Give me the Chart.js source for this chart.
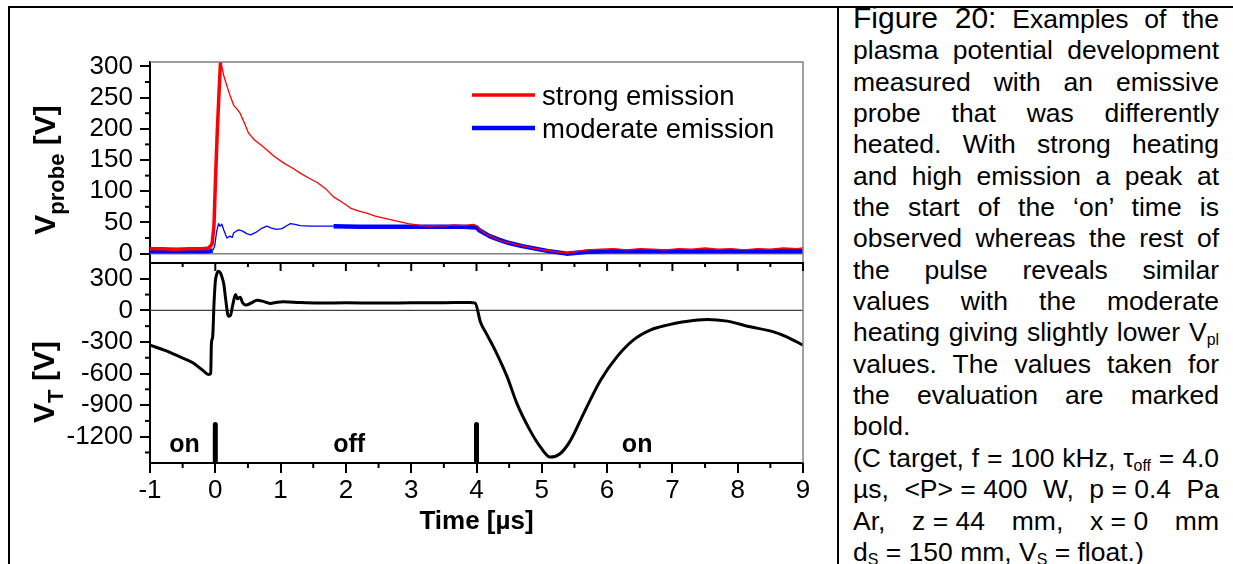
<!DOCTYPE html>
<html>
<head>
<meta charset="utf-8">
<script src="https://cdn.jsdelivr.net/npm/chart.js@4/dist/chart.umd.min.js"></script>
<style>
    html, body { margin: 0; padding: 0; background: #fff; }
    body { width: 1233px; height: 564px; position: relative; overflow: hidden; font-family: "Liberation Sans", Arial, sans-serif; }
    #frameTop { position: absolute; left: 8px; top: 6px; width: 1225px; height: 2px; background: #000; }
    #frameLeft { position: absolute; left: 8px; top: 6px; width: 2px; height: 558px; background: #000; }
    #frameMid { position: absolute; left: 837px; top: 6px; width: 2px; height: 558px; background: #000; }
    canvas { position: absolute; left: 0; top: 0; }
    #caption { position: absolute; left: 853px; top: 2px; width: 366px; font-size: 26.5px; line-height: 31.35px; color: #000; }
    #caption .j { text-align: justify; text-align-last: justify; }
    #caption .fig { font-size: 30px; }
    #caption .nb { display: inline-block; }
    sub { font-size: 0.6em; vertical-align: -0.25em; line-height: 0; }
</style>
</head>
<body>
<div id="frameTop"></div>
<div id="frameLeft"></div>
<div id="frameMid"></div>
<canvas id="probeChart" width="830" height="564"></canvas>
<canvas id="targetChart" width="830" height="564"></canvas>
<div id="caption">
    <div class="j"><span class="fig">Figure 20:</span> Examples of the</div>
    <div class="j">plasma potential development</div>
    <div class="j">measured with an emissive</div>
    <div class="j">probe that was differently</div>
    <div class="j">heated. With strong heating</div>
    <div class="j">and high emission a peak at</div>
    <div class="j">the start of the ‘on’ time is</div>
    <div class="j">observed whereas the rest of</div>
    <div class="j">the pulse reveals similar</div>
    <div class="j">values with the moderate</div>
    <div class="j">heating giving slightly lower V<sub>pl</sub></div>
    <div class="j">values. The values taken for</div>
    <div class="j">the evaluation are marked</div>
    <div>bold.</div>
    <div class="j">(C target, f = 100 kHz, τ<sub>off</sub> = 4.0</div>
    <div class="j">µs, <span class="nb">&lt;P&gt; = 400</span> W, <span class="nb">p = 0.4</span> Pa</div>
    <div class="j">Ar, <span class="nb">z = 44</span> mm, <span class="nb">x = 0</span> mm</div>
    <div>d<sub>S</sub> = 150 mm, V<sub>S</sub> = float.)</div>
</div>
<script>
// ------------------------------------------------------------
// dados
// ------------------------------------------------------------
const timeTicks = [-1, 0, 1, 2, 3, 4, 5, 6, 7, 8, 9];
const probeTicks = [0, 50, 100, 150, 200, 250, 300];
const targetTicks = [-1200, -900, -600, -300, 0, 300];
const seriesNames = ['strong emission', 'moderate emission'];

// strong emission - trecho em negrito (antes do pulso + subida)
const tStrongBold = [-1, -0.8, -0.6, -0.4, -0.2, -0.1, -0.05, -0.02, 0, 0.03, 0.06, 0.08];
const vStrongBold = [8, 8, 7, 8, 8, 9, 15, 45, 110, 195, 265, 307];

// strong emission - trecho fino
const tStrong = [0.08, 0.1, 0.13, 0.18, 0.23, 0.28, 0.33, 0.38, 0.45, 0.51, 0.6, 0.7, 0.79, 0.9, 1.05,
    1.2, 1.3, 1.45, 1.56, 1.7, 1.81, 1.95, 2.07, 2.2, 2.32, 2.45, 2.58, 2.7, 2.83, 2.95,
    3.09, 3.2, 3.35, 3.5, 3.65, 3.8, 3.95, 4.0, 4.06, 4.15, 4.26, 4.35, 4.47, 4.6, 4.77,
    4.9, 5.07, 5.2, 5.39, 5.5, 5.69, 5.9, 6.1, 6.3, 6.5, 6.7, 6.9, 7.1, 7.3, 7.5,
    7.7, 7.9, 8.1, 8.3, 8.5, 8.7, 8.9, 9];
const vStrong = [307, 300, 285, 268, 252, 238, 232, 225, 208, 193, 182, 174, 166, 156, 145,
    136, 129, 120, 114, 103, 91, 82, 73, 68, 65, 60, 57, 54, 51, 48,
    46, 44, 45, 44, 46, 45, 47, 45, 38, 31, 26, 21, 18, 15, 11,
    8, 5, 3, 1, 3, 6, 7, 8, 6, 8, 7, 6, 8, 7, 9,
    7, 8, 6, 8, 7, 9, 8, 9];

// moderate emission - negrito antes do pulso
const tModBoldA = [-1, -0.7, -0.4, -0.1, -0.04];
const vModBoldA = [4, 4, 4, 4, 5];

// moderate emission - trecho fino (oscilações)
const tMod = [-0.04, -0.01, 0.02, 0.05, 0.07, 0.1, 0.13, 0.16, 0.18, 0.22, 0.26, 0.28, 0.32, 0.36, 0.42,
    0.48, 0.54, 0.62, 0.7, 0.79, 0.86, 0.94, 1.02, 1.1, 1.15, 1.22, 1.3, 1.45, 1.6, 1.81];
const vMod = [5, 12, 35, 48, 44, 47, 38, 30, 25, 28, 26, 33, 36, 38, 36,
    32, 30, 34, 40, 44, 41, 39, 40, 45, 48, 47, 45, 44, 44, 44];

// moderate emission - negrito (valores usados na avaliação)
const tModBoldB = [1.81, 2.2, 2.6, 3.0, 3.4, 3.8, 4.0, 4.05, 4.2, 4.35, 4.5, 4.7, 4.9, 5.1, 5.25,
    5.38, 5.5, 5.7, 6.0, 6.5, 7.0, 7.5, 8.0, 8.5, 9.0];
const vModBoldB = [44, 43, 43, 43, 43, 43, 42, 37, 28, 22, 17, 12, 8, 4, 2,
    0, 1, 3, 4, 4, 4, 4, 4, 4, 4];

// tensão no alvo V_T
const tTarget = [-1, -0.75, -0.54, -0.35, -0.2, -0.1, -0.07, -0.06, -0.04, -0.02, 0, 0.02, 0.05, 0.08, 0.1,
    0.13, 0.16, 0.2, 0.23, 0.27, 0.31, 0.34, 0.38, 0.42, 0.47, 0.55, 0.64, 0.72, 0.84, 0.95,
    1.04, 1.3, 1.6, 2.0, 2.5, 3.0, 3.5, 3.9, 3.98, 4.06, 4.16, 4.31, 4.47, 4.62, 4.82,
    4.98, 5.13, 5.28, 5.44, 5.64, 5.9, 6.15, 6.4, 6.66, 6.92, 7.17, 7.53, 7.84, 8.19, 8.55,
    8.75, 9.0];
const vTarget = [-330, -385, -442, -495, -565, -610, -600, -320, -250, 60, 270, 340, 372, 355, 320,
    250, 100, -55, -50, 60, 150, 110, 125, 70, 50, 70, 95, 88, 66, 78,
    82, 74, 70, 72, 70, 72, 73, 75, 68, -110, -230, -410, -632, -886, -1140,
    -1299, -1394, -1362, -1235, -981, -664, -442, -283, -188, -140, -109, -86, -102, -156, -204,
    -251, -330];

// marcas de início/fim do pulso e rótulos das fases
const markTimes = [0, 4];
const markTop = -1085;
const phaseLabels = ['on', 'off', 'on'];
const phaseTimes = [-0.47, 2.05, 6.46];
const phaseValue = -1350;

// ------------------------------------------------------------
Chart.defaults.font.family = '"Liberation Sans", Arial, sans-serif';
Chart.defaults.color = '#000';

const FONT = '"Liberation Sans", Arial, sans-serif';

function pts(ts, vs) {
    return ts.map((t, i) => ({ x: t, y: vs[i] }));
}

function lineSet(data, color, width, extra) {
    return Object.assign({
        data: data,
        borderColor: color,
        borderWidth: width,
        pointRadius: 0,
        fill: false,
        tension: 0,
        borderJoinStyle: 'round',
        clip: 2
    }, extra || {});
}

function tickList(values) {
    return values.map(v => ({ value: v }));
}

// rótulo sem separador de milhar
const plainLabel = v => String(v);

// título vertical com subscrito
function drawRotatedTitle(ctx, cx, cy, main, sub, tail) {
    ctx.save();
    ctx.translate(cx, cy);
    ctx.rotate(-Math.PI / 2);
    ctx.fillStyle = '#000';
    ctx.textBaseline = 'alphabetic';
    ctx.textAlign = 'left';
    const bigFont = 'bold 30px ' + FONT;
    const smallFont = 'bold 22px ' + FONT;
    ctx.font = bigFont;
    const w1 = ctx.measureText(main).width;
    const w3 = ctx.measureText(tail).width;
    ctx.font = smallFont;
    const w2 = ctx.measureText(sub).width;
    let x = -(w1 + w2 + w3) / 2;
    ctx.font = bigFont;
    ctx.fillText(main, x, 0);
    x += w1;
    ctx.font = smallFont;
    ctx.fillText(sub, x, 9);
    x += w2;
    ctx.font = bigFont;
    ctx.fillText(tail, x, 0);
    ctx.restore();
}

function minorBetween(values) {
    const out = [];
    for (let i = 0; i < values.length - 1; i++) out.push((values[i] + values[i + 1]) / 2);
    return out;
}

// ------------------------------------------------------------
// painel superior: V_probe
// ------------------------------------------------------------
const probeFrame = {
    id: 'probeFrame',
    beforeDatasetsDraw(chart) {
        const { ctx, chartArea: a, scales: { y } } = chart;
        const y0 = y.getPixelForValue(0);
        ctx.save();
        ctx.strokeStyle = '#808080';
        ctx.lineWidth = 1.5;
        ctx.beginPath();
        ctx.moveTo(a.left, y0);
        ctx.lineTo(a.right, y0);
        ctx.stroke();
        ctx.restore();
    },
    afterDraw(chart) {
        const { ctx, chartArea: a, scales: { y } } = chart;
        ctx.save();
        // moldura cinza (topo e direita)
        ctx.strokeStyle = '#808080';
        ctx.lineWidth = 1.5;
        ctx.beginPath();
        ctx.moveTo(a.left, a.top);
        ctx.lineTo(a.right, a.top);
        ctx.lineTo(a.right, a.bottom);
        ctx.stroke();

        // ticks menores
        ctx.strokeStyle = '#000';
        ctx.lineWidth = 2;
        minorBetween(probeTicks).forEach(v => {
            const py = y.getPixelForValue(v);
            ctx.beginPath();
            ctx.moveTo(a.left - 5, py);
            ctx.lineTo(a.left, py);
            ctx.stroke();
        });

        // legenda
        const colors = ['#ff0000', '#0000ff'];
        const widths = [3.5, 4.5];
        const lineY = [95, 128];
        const textY = [105, 138];
        seriesNames.forEach((name, i) => {
            ctx.strokeStyle = colors[i];
            ctx.lineWidth = widths[i];
            ctx.beginPath();
            ctx.moveTo(472, lineY[i]);
            ctx.lineTo(535, lineY[i]);
            ctx.stroke();
            ctx.fillStyle = '#000';
            ctx.font = '27.5px ' + FONT;
            ctx.textAlign = 'left';
            ctx.textBaseline = 'alphabetic';
            ctx.fillText(name, 542, textY[i]);
        });
        ctx.restore();

        drawRotatedTitle(ctx, 55, 170, 'V', 'probe', ' [V]');
    }
};

new Chart(document.getElementById('probeChart'), {
    type: 'line',
    data: {
        datasets: [
            lineSet(pts(tStrongBold, vStrongBold), '#ff0000', 3.5),
            lineSet(pts(tStrong, vStrong), '#ff0000', 1.3),
            lineSet(pts(tModBoldA, vModBoldA), '#0000ff', 4.5),
            lineSet(pts(tMod, vMod), '#0000ff', 1.3),
            lineSet(pts(tModBoldB, vModBoldB), '#0000ff', 4.5)
        ]
    },
    options: {
        responsive: false,
        animation: false,
        devicePixelRatio: 1,
        layout: { padding: { left: 0, top: 62, right: 27, bottom: 301 } },
        plugins: { legend: { display: false }, tooltip: { enabled: false } },
        scales: {
            x: { type: 'linear', min: -1, max: 9, display: false },
            y: {
                type: 'linear',
                min: -15,
                max: 307,
                afterBuildTicks: s => { s.ticks = tickList(probeTicks); },
                afterFit: s => { s.width = 150; },
                ticks: { font: { size: 26 }, color: '#000', padding: 7, autoSkip: false, callback: plainLabel },
                grid: { drawOnChartArea: false, tickLength: 10, color: '#000', lineWidth: 2 },
                border: { display: true, color: '#000', width: 2 }
            }
        }
    },
    plugins: [probeFrame]
});

// ------------------------------------------------------------
// painel inferior: V_T
// ------------------------------------------------------------
const targetFrame = {
    id: 'targetFrame',
    beforeDatasetsDraw(chart) {
        const { ctx, chartArea: a, scales: { y } } = chart;
        const y0 = y.getPixelForValue(0);
        ctx.save();
        ctx.strokeStyle = '#404040';
        ctx.lineWidth = 1.2;
        ctx.beginPath();
        ctx.moveTo(a.left, y0);
        ctx.lineTo(a.right, y0);
        ctx.stroke();
        ctx.restore();
    },
    afterDraw(chart) {
        const { ctx, chartArea: a, scales: { x, y } } = chart;
        ctx.save();
        // borda direita cinza
        ctx.strokeStyle = '#808080';
        ctx.lineWidth = 1.5;
        ctx.beginPath();
        ctx.moveTo(a.right, a.top);
        ctx.lineTo(a.right, a.bottom);
        ctx.stroke();

        // borda superior preta com ticks para dentro
        ctx.strokeStyle = '#000';
        ctx.lineWidth = 2;
        ctx.beginPath();
        ctx.moveTo(a.left, a.top);
        ctx.lineTo(a.right + 1, a.top);
        ctx.stroke();
        timeTicks.forEach(t => {
            const px = x.getPixelForValue(t);
            ctx.beginPath();
            ctx.moveTo(px, a.top);
            ctx.lineTo(px, a.top + 8);
            ctx.stroke();
        });
        minorBetween(timeTicks).forEach(t => {
            const px = x.getPixelForValue(t);
            ctx.beginPath();
            ctx.moveTo(px, a.top);
            ctx.lineTo(px, a.top + 4);
            ctx.stroke();
            ctx.beginPath();
            ctx.moveTo(px, a.bottom);
            ctx.lineTo(px, a.bottom + 5);
            ctx.stroke();
        });

        // ticks menores do eixo y
        const yMinor = minorBetween(targetTicks).concat([targetTicks[0] - 150]);
        yMinor.forEach(v => {
            const py = y.getPixelForValue(v);
            ctx.beginPath();
            ctx.moveTo(a.left - 5, py);
            ctx.lineTo(a.left, py);
            ctx.stroke();
        });

        // rótulos das fases
        ctx.fillStyle = '#000';
        ctx.font = 'bold 25px ' + FONT;
        ctx.textAlign = 'center';
        ctx.textBaseline = 'alphabetic';
        phaseLabels.forEach((lbl, i) => {
            ctx.fillText(lbl, x.getPixelForValue(phaseTimes[i]), y.getPixelForValue(phaseValue));
        });

        // título do eixo x
        ctx.font = 'bold 26px ' + FONT;
        ctx.fillText('Time [µs]', (a.left + a.right) / 2, 529);
        ctx.restore();

        drawRotatedTitle(ctx, 54, 382, 'V', 'T', ' [V]');
    }
};

const markerSets = markTimes.map(t => lineSet(
    [{ x: t, y: markTop }, { x: t, y: -1450 }], '#000', 5, { borderCapStyle: 'round', clip: 0 }
));

new Chart(document.getElementById('targetChart'), {
    type: 'line',
    data: {
        datasets: [
            lineSet(pts(tTarget, vTarget), '#000', 3, { cubicInterpolationMode: 'monotone' })
        ].concat(markerSets)
    },
    options: {
        responsive: false,
        animation: false,
        devicePixelRatio: 1,
        layout: { padding: { left: 0, top: 263, right: 27, bottom: 0 } },
        plugins: { legend: { display: false }, tooltip: { enabled: false } },
        scales: {
            x: {
                type: 'linear',
                min: -1,
                max: 9,
                afterBuildTicks: s => { s.ticks = tickList(timeTicks); },
                afterFit: s => { s.height = 101; },
                ticks: { font: { size: 26 }, color: '#000', padding: 2, autoSkip: false, maxRotation: 0, callback: plainLabel },
                grid: { drawOnChartArea: false, tickLength: 10, color: '#000', lineWidth: 2 },
                border: { display: true, color: '#000', width: 2 }
            },
            y: {
                type: 'linear',
                min: -1450,
                max: 450,
                afterBuildTicks: s => { s.ticks = tickList(targetTicks); },
                afterFit: s => { s.width = 150; },
                ticks: { font: { size: 26 }, color: '#000', padding: 7, autoSkip: false, callback: plainLabel },
                grid: { drawOnChartArea: false, tickLength: 10, color: '#000', lineWidth: 2 },
                border: { display: true, color: '#000', width: 2 }
            }
        }
    },
    plugins: [targetFrame]
});
</script>
</body>
</html>
